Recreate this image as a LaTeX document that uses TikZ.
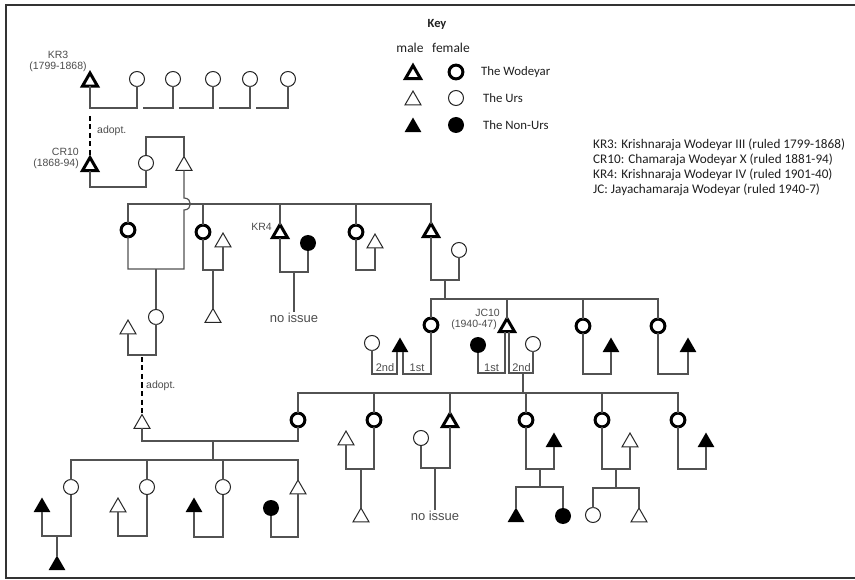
\documentclass[tikz,border=0pt]{standalone}
\usepackage{fontspec}
\setmainfont{Liberation Sans}
\newfontfamily\keyfont{Carlito}
\usetikzlibrary{shapes.geometric,calc}
\definecolor{lg}{gray}{0.32}
\definecolor{tg}{gray}{0.3}
\definecolor{kt}{gray}{0.12}
\begin{document}
\begin{tikzpicture}[x=1pt,y=-1pt,
 conn/.style={draw=lg,line width=1.2pt},
 adopt/.style={draw=black,line width=2.4pt,dash pattern=on 5pt off 3.5pt},
 trib/.style={regular polygon,regular polygon sides=3,inner sep=0pt,outer sep=0pt,yshift=-2.3pt},
 wtri/.style={trib,draw=black,fill=white,line width=3pt,minimum size=17.5pt},
 utri/.style={trib,draw=black!85,fill=white,line width=1pt,minimum size=18.5pt},
 ntri/.style={trib,fill=black,minimum size=19.5pt},
 cb/.style={circle,inner sep=0pt,outer sep=0pt},
 wcirc/.style={cb,draw=black,fill=white,line width=3pt,minimum size=13.8pt},
 ucirc/.style={cb,draw=black!85,fill=white,line width=1pt,minimum size=15pt},
 ncirc/.style={cb,fill=black,minimum size=16pt},
 lab/.style={text=tg,font=\fontsize{10.5}{12}\selectfont,inner sep=0pt},
 ord/.style={text=tg,font=\fontsize{11}{12}\selectfont,inner sep=0pt,anchor=base},
 noiss/.style={text=tg,font=\fontsize{13}{14}\selectfont,inner sep=1.5pt},
 keyt/.style={text=kt,inner sep=0pt,anchor=west,font=\keyfont\fontsize{12.8}{14}\selectfont},
 legt/.style={text=kt,inner sep=0pt,anchor=west,font=\keyfont\fontsize{13.2}{14}\selectfont},
]
\useasboundingbox (0,0) rectangle (855,580);
\draw[line width=2.3pt,draw=black!80] (855,5) -- (6,5) -- (6,578) -- (855,578);

% levels
\foreach \v in {108,137,187,198,210,204,269,270,272,280,299,355,357,373,374,393,441,460,468,469,487,488,536,537}
  \coordinate (L\v) at (0,\v);

% ---------- generation 0 ----------
\node[wtri] (kr3) at (90,79.5) {};
\node[ucirc] (a1) at (137,79) {};
\node[ucirc] (a2) at (173,79) {};
\node[ucirc] (a3) at (213,79) {};
\node[ucirc] (a4) at (250,79) {};
\node[ucirc] (a5) at (288,79) {};
\node[lab] (kr3l) at (58,54.5) {KR3};
\node[lab] (kr3d) at (58,66.5) {(1799-1868)};
\draw[conn] (kr3.south) |- (a1.south |- L108) -- (a1.south);
\draw[conn] ($(a1.south |- L108)+(6,0)$) -| (a2.south);
\draw[conn] ($(a2.south |- L108)+(6,0)$) -| (a3.south);
\draw[conn] ($(a3.south |- L108)+(6,0)$) -| (a4.south);
\draw[conn] ($(a4.south |- L108)+(6,0)$) -| (a5.south);

\node[wtri] (cr10) at (90,164) {};
\node[ucirc] (cw) at (146,163) {};
\node[utri] (u1) at (184,163.5) {};
\node[lab,anchor=east] (cr10l) at (79,151.5) {CR10};
\node[lab,anchor=east] (cr10d) at (79,163.5) {(1868-94)};
\draw[adopt] ($(kr3.south |- L108)+(0,8)$) -- (cr10.north);
\node[lab,anchor=west] (ad1) at (97,131) {adopt.};
\draw[conn] (cr10.south) |- (cw.south |- L187) -- (cw.south);
\draw[conn] (cw.north) |- (u1.north |- L137) -- (u1.north);

% ---------- generation 1 ----------
\node[wcirc] (c1) at (128,230) {};
\node[wcirc] (c2) at (203,232) {};
\node[utri] (u2) at (223,240) {};
\node[utri] (u3) at (213,315.5) {};
\node[wtri] (kr4) at (280,231) {};
\node[ncirc] (n1) at (308,243) {};
\node[lab,anchor=east] (kr4l) at (272,227) {KR4};
\node[noiss] (ni1) at (294,318) {no issue};
\node[wcirc] (c4) at (356,232) {};
\node[utri] (u4) at (375,241) {};
\node[wtri] (m5) at (431,230) {};
\node[ucirc] (w5) at (459,250) {};

\draw[conn] (c1.north) |- (m5.north |- L204) -- (m5.north);
\draw[conn] (u1.south) -- (u1.south |- L198) .. controls +(8.5,0) and +(8.5,0) .. (u1.south |- L210) -- (u1.south |- L269) -| (c1.south);
\draw[conn] (c2.north |- L204) -- (c2.north);
\draw[conn] (kr4.north |- L204) -- (kr4.north);
\draw[conn] (c4.north |- L204) -- (c4.north);
\draw[conn] (c2.south) |- (u2.south |- L270) -- (u2.south);
\draw[conn] (u3.north |- L270) -- (u3.north);
\draw[conn] (kr4.south) |- (n1.south |- L272) -- (n1.south);
\draw[conn] (ni1.north |- L272) -- (ni1.north);
\draw[conn] (c4.south) |- (u4.south |- L270) -- (u4.south);
\draw[conn] (m5.south) |- (w5.south |- L280) -- (w5.south);

% ---------- generation 2 (left branch) ----------
\node[utri] (ub) at (128,327) {};
\node[ucirc] (ucb) at (156,317) {};
\node[utri] (ua) at (142,421.5) {};
\draw[conn] (ucb.north |- L269) -- (ucb.north);
\draw[conn] (ub.south) |- (ucb.south |- L355) -- (ucb.south);
\coordinate (adm) at ($(ub.south |- L357)!0.5!(ucb.south |- L357)$);
\draw[adopt] (adm) -- (ua.north);
\node[lab,anchor=west] (ad2) at (146,386) {adopt.};

% ---------- generation 2 (right branch) ----------
\coordinate (m5m) at ($(m5.south |- L280)!0.5!(w5.south |- L280)$);
\draw[conn] (m5m) -- (m5m |- L299);
\node[wcirc] (d1) at (431,325) {};
\node[ntri] (nt1) at (400,345) {};
\node[ucirc] (uc2) at (372,343) {};
\node[wtri] (jc) at (507,325) {};
\node[ncirc] (nc1) at (478,345) {};
\node[ucirc] (uc3) at (533,344) {};
\node[lab,anchor=east] (jcl) at (500,313) {JC10};
\node[lab,anchor=east] (jcd) at (497,324.5) {(1940-47)};
\node[wcirc] (d3) at (583,326) {};
\node[ntri] (nt2) at (611,345) {};
\node[wcirc] (d4) at (658,326) {};
\node[ntri] (nt3) at (688,345) {};

\draw[conn] (d1.north) |- (d4.north |- L299) -- (d4.north);
\draw[conn] (jc.north |- L299) -- (jc.north);
\draw[conn] (d3.north |- L299) -- (d3.north);
\draw[conn] (d1.south) |- ($(nt1.south |- L374)+(3,0)$) -- ($(nt1.south)+(3,0)$);
\draw[conn] ($(nt1.south)+(-3,0)$) |- (uc2.south |- L374) -- (uc2.south);
\node[ord] (o1) at (417,372) {1st};
\node[ord] (o2) at (385,372) {2nd};
\draw[conn] ($(jc.south)+(-2,0)$) |- (nc1.south |- L373) -- (nc1.south);
\draw[conn] ($(jc.south)+(2,0)$) |- (uc3.south |- L373) -- (uc3.south);
\node[ord] (o3) at (491.5,372) {1st};
\node[ord] (o4) at (521.5,372) {2nd};
\draw[conn] (d3.south) |- (nt2.south |- L374) -- (nt2.south);
\draw[conn] (d4.south) |- (nt3.south |- L374) -- (nt3.south);

% ---------- generation 3 ----------
\coordinate (jcm) at (523,373);
\draw[conn] (jcm) -- (jcm |- L393);
\node[wcirc] (e1) at (298,420) {};
\node[wcirc] (e2) at (374,420) {};
\node[utri] (u5) at (346,438) {};
\node[utri] (u6) at (361,515) {};
\node[wtri] (e3) at (450,420) {};
\node[ucirc] (uc5) at (421,438) {};
\node[noiss] (ni2) at (435,516) {no issue};
\node[wcirc] (e4) at (526,420) {};
\node[ntri] (nt4) at (554,440) {};
\node[ntri] (nt5) at (516,515) {};
\node[ncirc] (nc2) at (563,516) {};
\node[wcirc] (e5) at (602,420) {};
\node[utri] (u7) at (630,440) {};
\node[ucirc] (uc6) at (593,515) {};
\node[utri] (u8) at (639,515) {};
\node[wcirc] (e6) at (678,420) {};
\node[ntri] (nt6) at (706,440) {};

\draw[conn] (e1.north) |- (e6.north |- L393) -- (e6.north);
\foreach \n in {e2,e3,e4,e5} \draw[conn] (\n.north |- L393) -- (\n.north);
\draw[conn] (e1.south) |- (ua.south |- L441) -- (ua.south);
\draw[conn] (e2.south) |- (u5.south |- L469) -- (u5.south);
\draw[conn] (u6.north |- L469) -- (u6.north);
\draw[conn] (e3.south) |- (uc5.south |- L468) -- (uc5.south);
\draw[conn] (ni2.north |- L468) -- (ni2.north);
\draw[conn] (e4.south) |- (nt4.south |- L469) -- (nt4.south);
\coordinate (e4m) at (540,469);
\draw[conn] (e4m) -- (e4m |- L487);
\draw[conn] (nt5.north) |- (nc2.north |- L487) -- (nc2.north);
\draw[conn] (e5.south) |- (u7.south |- L469) -- (u7.south);
\coordinate (e5m) at (616,469);
\draw[conn] (e5m) -- (e5m |- L488);
\draw[conn] (uc6.north) |- (u8.north |- L488) -- (u8.north);
\draw[conn] (e6.south) |- (nt6.south |- L469) -- (nt6.south);

% ---------- generation 4 ----------
\coordinate (e1m) at (213,441);
\draw[conn] (e1m) -- (e1m |- L460);
\node[ucirc] (f1) at (71,487) {};
\node[ntri] (nt7) at (42,505) {};
\node[ntri] (nt8) at (57,563) {};
\node[ucirc] (f2) at (147,487) {};
\node[utri] (u9) at (118,505) {};
\node[ucirc] (f3) at (223,487) {};
\node[ntri] (nt9) at (194,505) {};
\node[utri] (f4) at (298,487) {};
\node[ncirc] (nc3) at (271,508) {};
\draw[conn] (f1.north) |- (f4.north |- L460) -- (f4.north);
\draw[conn] (f2.north |- L460) -- (f2.north);
\draw[conn] (f3.north |- L460) -- (f3.north);
\draw[conn] (f1.south) |- (nt7.south |- L536) -- (nt7.south);
\coordinate (f1m) at (57,536);
\draw[conn] (f1m) -- (nt8.north);
\draw[conn] (f2.south) |- (u9.south |- L536) -- (u9.south);
\draw[conn] (f3.south) |- (nt9.south |- L537) -- (nt9.south);
\draw[conn] (f4.south) |- (nc3.south |- L537) -- (nc3.south);

% ---------- key ----------
\node[text=kt,inner sep=0pt,font=\keyfont\bfseries\fontsize{12.5}{14}\selectfont] (keyh) at (437,24) {Key};
\node[text=kt,inner sep=0pt,font=\keyfont\fontsize{13.5}{14}\selectfont] (kmale) at (410,48) {male};
\node[text=kt,inner sep=0pt,font=\keyfont\fontsize{13.5}{14}\selectfont] (kfem) at (451,48) {female};
\node[wtri] (k1) at (413,72) {};
\node[wcirc] (k2) at (456,72) {};
\node[utri] (k3) at (413,98) {};
\node[ucirc] (k4) at (456,98) {};
\node[ntri] (k5) at (413,125) {};
\node[ncirc] (k6) at (456,125) {};
\node[keyt] (kt1) at (481,72) {The Wodeyar};
\node[keyt] (kt2) at (483,98) {The Urs};
\node[keyt] (kt3) at (483,125) {The Non-Urs};
\node[legt] (g1) at (593,145) {KR3: Krishnaraja Wodeyar III (ruled 1799-1868)};
\node[legt] (g2) at (593,160) {CR10: Chamaraja Wodeyar X (ruled 1881-94)};
\node[legt] (g3) at (593,175) {KR4: Krishnaraja Wodeyar IV (ruled 1901-40)};
\node[legt] (g4) at (593,189.5) {JC: Jayachamaraja Wodeyar (ruled 1940-7)};
\end{tikzpicture}
\end{document}
